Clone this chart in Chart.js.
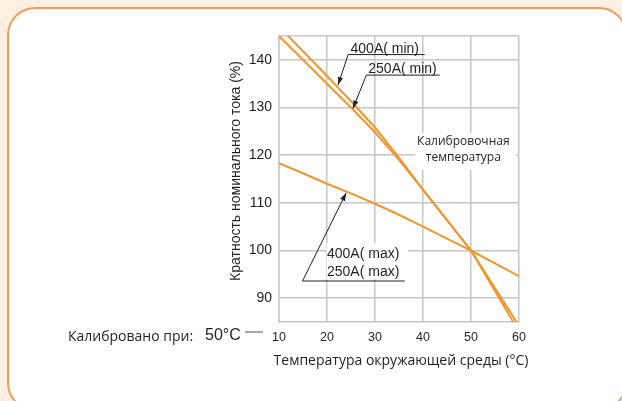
<!DOCTYPE html>
<html>
<head>
<meta charset="utf-8">
<script src="https://cdn.jsdelivr.net/npm/chart.js@4/dist/chart.umd.min.js"></script>
<style>
  html, body { margin: 0; padding: 0; background: #fdf0e3; width: 622px; height: 401px; overflow: hidden; }
  #frame { position: absolute; left: 7px; top: 7px; width: 616px; height: 400px; background: #ffffff;
           border: 2.5px solid #f79b57; border-radius: 28px; }
  #c { position: absolute; left: 0; top: 0; }
</style>
</head>
<body>
<div id="frame"></div>
<canvas id="c" width="622" height="401"></canvas>
<script>
// ---- data ----
const temps   = [10, 15, 20, 25, 30, 35, 40, 45, 50, 55, 60];
const min400A = [147, 141.8, 136.6, 131.3, 125.8, 119.5, 112.7, 106.4, 100, 92.1, 84.2];
const min250A = [145, 140, 135, 130, 124.8, 119, 112.7, 106.3, 100, 91.5, 83];
const maxLine = [118.3, 116.2, 114, 112, 109.8, 107.5, 105, 102.5, 100, 97.3, 94.6];
const yTickValues = [90, 100, 110, 120, 130, 140, 145];
const xTickValues = [10, 20, 30, 40, 50, 60];
const yTitle = 'Кратность номинального тока (%)';
const xTitle = 'Температура окружающей среды (°C)';
const calibText = ['Калибровочная', 'температура'];
const calibratedLabel = 'Калибровано при:';
const calibratedValue = '50°C';
const minLabels = ['400A( min)', '250A( min)'];
const maxLabels = ['400A( max)', '250A( max)'];

const ORANGE = '#f0962e';
const GRID = '#c6c6c6';
const TEXT = '#231f20';

function pts(ys) { return temps.map((t, i) => ({ x: t, y: ys[i] })); }

function arrow(ctx, x1, y1, x2, y2) {
  ctx.beginPath(); ctx.moveTo(x1, y1); ctx.lineTo(x2, y2); ctx.stroke();
  const a = Math.atan2(y2 - y1, x2 - x1), L = 8, W = 2.6;
  ctx.beginPath();
  ctx.moveTo(x2, y2);
  ctx.lineTo(x2 - L * Math.cos(a) + W * Math.sin(a), y2 - L * Math.sin(a) - W * Math.cos(a));
  ctx.lineTo(x2 - L * Math.cos(a) - W * Math.sin(a), y2 - L * Math.sin(a) + W * Math.cos(a));
  ctx.closePath(); ctx.fill();
}

const annot = {
  id: 'annot',
  beforeDatasetsDraw(chart) {
    const ctx = chart.ctx, xs = chart.scales.x, ys = chart.scales.y;
    const X = v => xs.getPixelForValue(v), Y = v => ys.getPixelForValue(v);
    ctx.save();
    ctx.fillStyle = '#ffffff';
    ctx.fillRect(X(38.3), Y(124.7), X(60) - X(38.3) - 3, Y(116.9) - Y(124.7));
    ctx.fillRect(X(19.9), Y(101.6), X(36.9) - X(19.9), Y(94.0) - Y(101.6));
    ctx.restore();
  },
  afterDraw(chart) {
    const ctx = chart.ctx, xs = chart.scales.x, ys = chart.scales.y;
    const X = v => xs.getPixelForValue(v), Y = v => ys.getPixelForValue(v);
    ctx.save();
    ctx.fillStyle = TEXT; ctx.strokeStyle = TEXT; ctx.lineWidth = 1;
    ctx.font = '14px "Liberation Sans", Arial, sans-serif';
    ctx.textBaseline = 'alphabetic'; ctx.textAlign = 'left';
    ctx.fillText(minLabels[0], X(24.9), Y(141.4));
    ctx.beginPath(); ctx.moveTo(X(24.4), Y(141.1)); ctx.lineTo(X(40.35), Y(141.1)); ctx.stroke();
    arrow(ctx, X(24.4), Y(141.1), X(22.3), Y(134.7));
    ctx.fillText(minLabels[1], X(28.6), Y(137.2));
    ctx.beginPath(); ctx.moveTo(X(28.2), Y(136.8)); ctx.lineTo(X(43.5), Y(136.8)); ctx.stroke();
    arrow(ctx, X(28.2), Y(136.8), X(25.4), Y(129.8));
    ctx.fillText(maxLabels[0], X(20.0), Y(98.5));
    ctx.fillText(maxLabels[1], X(20.0), Y(94.6));
    ctx.beginPath(); ctx.moveTo(X(14.9), Y(93.6)); ctx.lineTo(X(36.2), Y(93.6)); ctx.stroke();
    arrow(ctx, X(14.9), Y(93.6), X(24.0), Y(112.1));
    ctx.font = '12px "Open Sans", sans-serif';
    ctx.textAlign = 'center'; ctx.textBaseline = 'middle';
    ctx.fillText(calibText[0], X(48.4), Y(122.8));
    ctx.fillText(calibText[1], X(48.4), Y(119.4));
    ctx.font = '14px "Open Sans", sans-serif';
    ctx.fillText(xTitle, 401, 361);
    ctx.save();
    ctx.translate(236, 171); ctx.rotate(-Math.PI / 2);
    ctx.font = '14px "Liberation Sans", Arial, sans-serif';
    ctx.fillText(yTitle, 0, 0);
    ctx.restore();
    ctx.textAlign = 'left';
    ctx.font = '14px "Open Sans", sans-serif';
    ctx.fillText(calibratedLabel, 68, 337);
    ctx.font = '16px "Liberation Sans", Arial, sans-serif';
    ctx.fillText(calibratedValue, 205, 336);
    ctx.strokeStyle = '#8a8a8a'; ctx.lineWidth = 1.5;
    ctx.beginPath(); ctx.moveTo(245, 332); ctx.lineTo(263, 332); ctx.stroke();
    ctx.restore();
  }
};

new Chart(document.getElementById('c'), {
  type: 'line',
  data: {
    datasets: [
      { label: '400A (min)', data: pts(min400A), borderColor: ORANGE, borderWidth: 2, pointRadius: 0, tension: 0 },
      { label: '250A (min)', data: pts(min250A), borderColor: ORANGE, borderWidth: 2, pointRadius: 0, tension: 0 },
      { label: '400A/250A (max)', data: pts(maxLine), borderColor: ORANGE, borderWidth: 2, pointRadius: 0, tension: 0 }
    ]
  },
  options: {
    responsive: false,
    animation: false,
    layout: { padding: { left: 0, right: 103, top: 36, bottom: 0 } },
    plugins: { legend: { display: false }, tooltip: { enabled: false } },
    scales: {
      x: {
        type: 'linear', min: 10, max: 60,
        afterFit: s => { s.height = 79; },
        afterBuildTicks: s => { s.ticks = xTickValues.map(v => ({ value: v })); },
        grid: { color: GRID, lineWidth: 1.5, drawTicks: false },
        border: { color: GRID, width: 1.5 },
        ticks: { color: TEXT, padding: 8, maxRotation: 0, font: { family: '"Liberation Sans", Arial, sans-serif', size: 12.5 } }
      },
      y: {
        type: 'linear', min: 85, max: 145,
        afterFit: s => { s.width = 279; },
        afterBuildTicks: s => { s.ticks = yTickValues.map(v => ({ value: v })); },
        grid: { color: GRID, lineWidth: 1.5, drawTicks: false },
        border: { color: GRID, width: 1.5 },
        ticks: { color: TEXT, padding: 7, font: { family: '"Liberation Sans", Arial, sans-serif', size: 14 },
                 callback: v => (v === 145 ? '' : v) }
      }
    }
  },
  plugins: [annot]
});
</script>
</body>
</html>
